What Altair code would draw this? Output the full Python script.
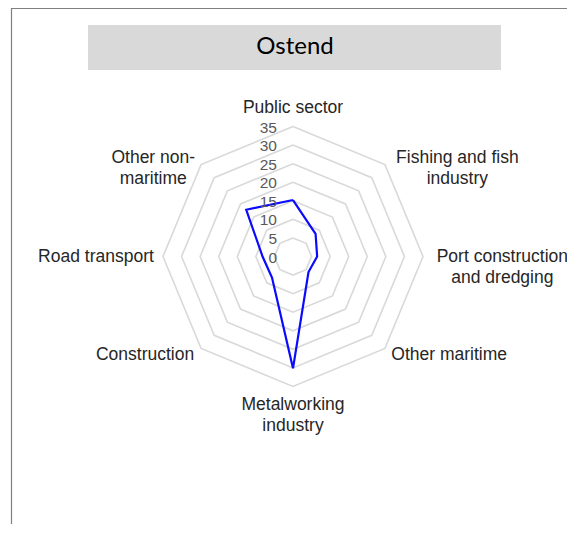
import altair as alt
import numpy as np
import pandas as pd

# ---- data ----
categories = ["Public sector", "Fishing and fish industry", "Port construction and dredging",
              "Other maritime", "Metalworking industry", "Construction", "Road transport",
              "Other non-maritime"]
label_lines = [["Public sector"], ["Fishing and fish", "industry"], ["Port construction", "and dredging"],
               ["Other maritime"], ["Metalworking", "industry"], ["Construction"], ["Road transport"],
               ["Other non-", "maritime"]]
values = [15.2, 8.6, 6.5, 5.9, 30.1, 8.0, 8.2, 17.8]
ticks = [0, 5, 10, 15, 20, 25, 30, 35]
title_text = "Ostend"

# ---- layout ----
W, H = 559, 516
CX, CY = 285.0, 248.5          # centre of the radar in plot pixels
PX_PER_UNIT = 130.0 / 35.0
xdom = [-CX / PX_PER_UNIT, (W - CX) / PX_PER_UNIT]
ydom = [-(H - CY) / PX_PER_UNIT, CY / PX_PER_UNIT]
xs = alt.Scale(domain=xdom, nice=False, zero=False)
ys = alt.Scale(domain=ydom, nice=False, zero=False)
LABEL_R = 37.6
LABEL_FS = 17.5
CHAR_W = 8.2                   # approx. px per character at LABEL_FS

n = len(categories)
ang = [i * 2 * np.pi / n for i in range(n)]

# grid rings
ring_rows = []
for lv in ticks[1:]:
    for k in range(n + 1):
        a = ang[k % n]
        ring_rows.append({"level": lv, "ord": k, "x": lv * np.sin(a), "y": lv * np.cos(a)})
rings = pd.DataFrame(ring_rows)

# data polygon
poly_rows = []
for k in range(n + 1):
    a = ang[k % n]
    v = values[k % n]
    poly_rows.append({"ord": k, "x": v * np.sin(a), "y": v * np.cos(a), "cat": categories[k % n]})
poly = pd.DataFrame(poly_rows)

# category labels (lines centred on each other, block placed outside the ring)
lab_rows = []
for i in range(n):
    s, c = np.sin(ang[i]), np.cos(ang[i])
    half_w = max(len(t) for t in label_lines[i]) * CHAR_W / 2.0
    side = 1 if s > 0.1 else (-1 if s < -0.1 else 0)
    lab_rows.append({"label": label_lines[i],
                     "x": LABEL_R * s + side * half_w / PX_PER_UNIT,
                     "y": LABEL_R * c,
                     "baseline": "bottom" if c > 0.9 else ("top" if c < -0.9 else "middle")})
labs = pd.DataFrame(lab_rows)

tick_df = pd.DataFrame({"t": ticks, "x": [0.0] * len(ticks), "y": [float(t) for t in ticks]})

X = lambda: alt.X("x:Q", scale=xs, axis=None)
Y = lambda: alt.Y("y:Q", scale=ys, axis=None)

grid = alt.Chart(rings).mark_line(color="#d9d9d9", strokeWidth=1.6).encode(
    x=X(), y=Y(), order="ord:Q", detail="level:N")

line = alt.Chart(poly).mark_line(color="#0a0aff", strokeWidth=2.2, strokeJoin="miter").encode(
    x=X(), y=Y(), order="ord:Q")

tick_text = alt.Chart(tick_df).mark_text(align="right", baseline="middle", dx=-16, dy=1,
                                         font="Liberation Sans", fontSize=15.5, color="#595959").encode(
    x=X(), y=Y(), text="t:Q")

label_layers = []
for bl in ["top", "bottom", "middle"]:
    sub = labs[labs["baseline"] == bl]
    if len(sub) == 0:
        continue
    label_layers.append(
        alt.Chart(sub).mark_text(align="center", baseline=bl, font="Liberation Sans", fontSize=LABEL_FS,
                                 lineHeight=21, color="#262626").encode(
            x=X(), y=Y(), text="label"))

one = pd.DataFrame({"t": [title_text]})
title_box = alt.Chart(one).mark_rect(color="#d9d9d9").encode(
    x=alt.value(80), x2=alt.value(493), y=alt.value(17), y2=alt.value(62))
title = alt.Chart(one).mark_text(font="Lato", fontSize=24, color="#000000", baseline="middle",
                                 align="center").encode(
    x=alt.value(287), y=alt.value(39), text="t:N")

frame_left = alt.Chart(one).mark_rule(color="#7f7f7f", strokeWidth=1.2).encode(
    x=alt.value(3.5), y=alt.value(0), y2=alt.value(H))
frame_top = alt.Chart(one).mark_rule(color="#7f7f7f", strokeWidth=1.2).encode(
    x=alt.value(3.5), x2=alt.value(W), y=alt.value(0.5))

chart = alt.layer(frame_left, frame_top, title_box, title, grid, line, tick_text, *label_layers).properties(
    width=W, height=H, autosize=alt.AutoSizeParams(type="none"), padding=0
).configure_view(stroke=None)

chart.save("out.html", embed_options={"renderer": "svg", "actions": False})
